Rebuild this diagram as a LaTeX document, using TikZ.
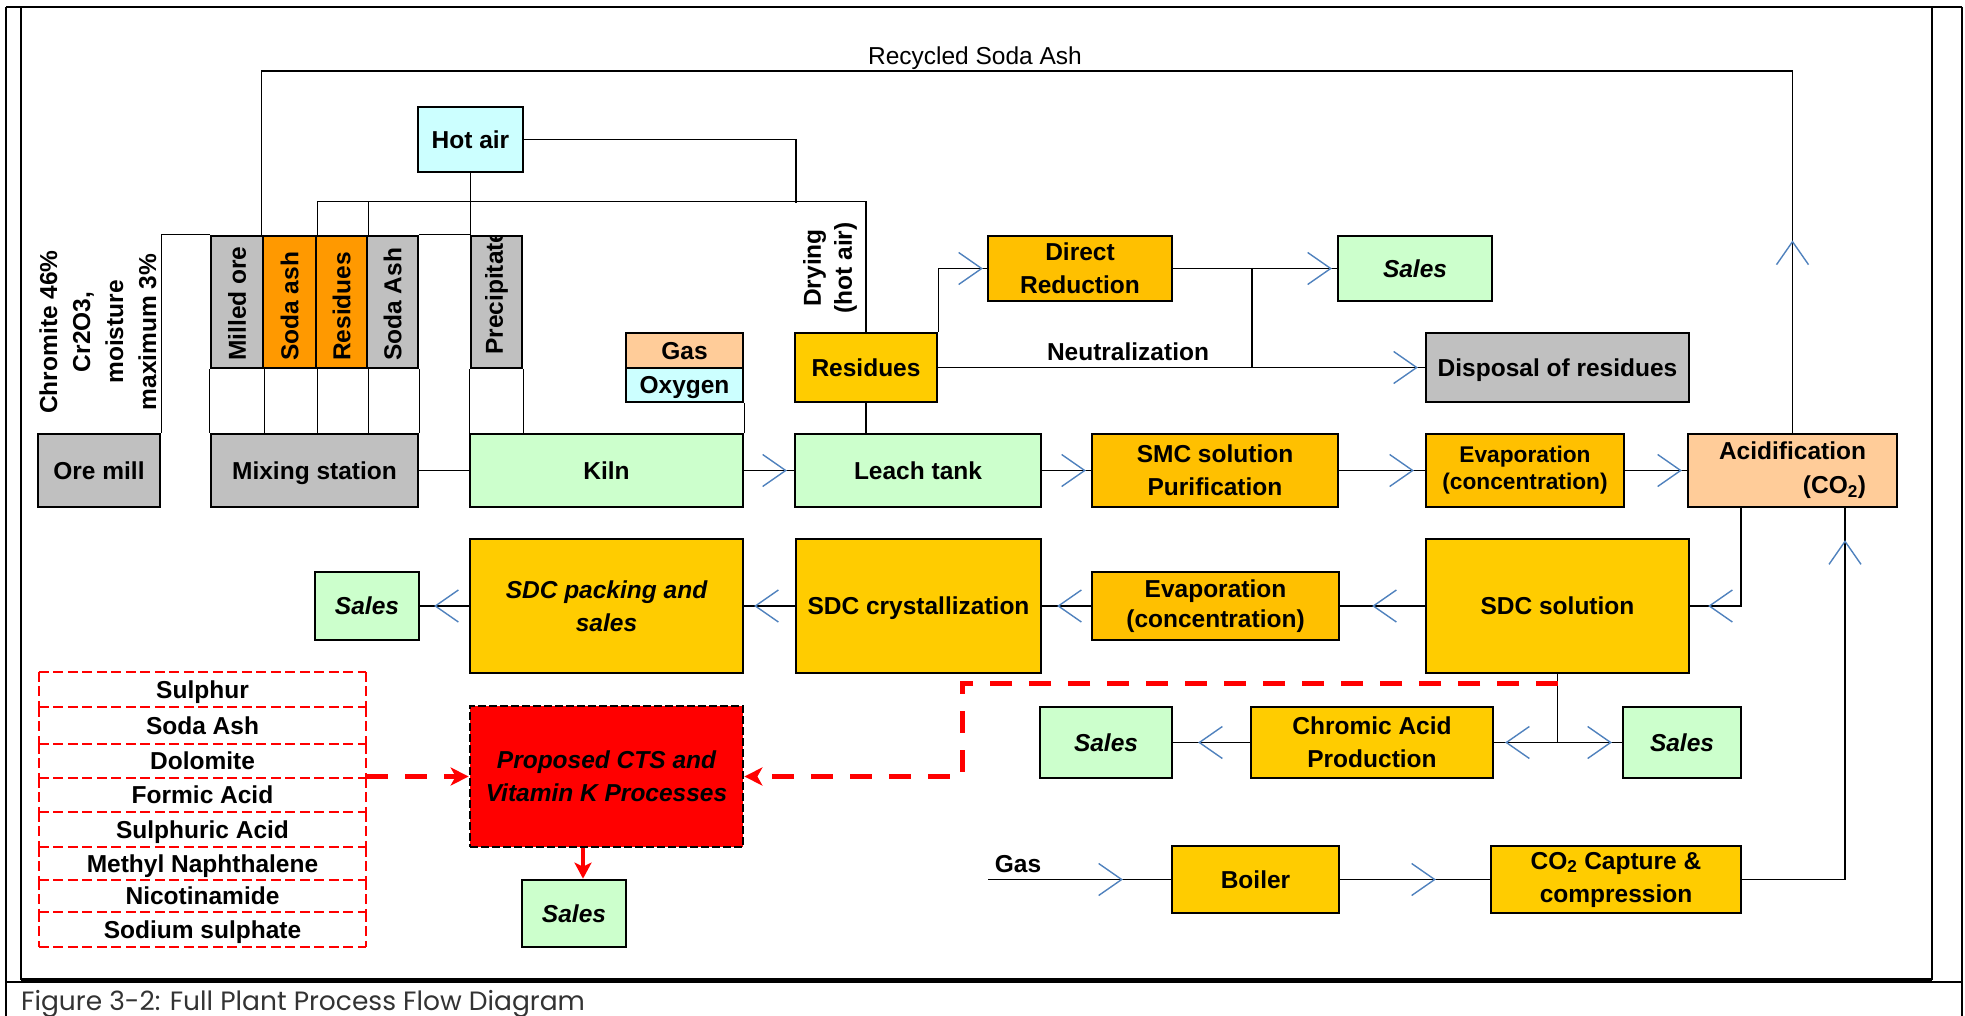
\documentclass[tikz,border=0pt]{standalone}
\usepackage{fontspec}
\setmainfont{Liberation Sans}
\newfontfamily\capfont{Poppins}
\usetikzlibrary{arrows.meta,decorations.markings}
\definecolor{grayfill}{HTML}{C0C0C0}
\definecolor{orangefill}{HTML}{FF9900}
\definecolor{goldA}{HTML}{FFCC00}
\definecolor{goldB}{HTML}{FFC000}
\definecolor{greenfill}{HTML}{CCFFCC}
\definecolor{cyanfill}{HTML}{CCFFFF}
\definecolor{peach}{HTML}{FFCC99}
\definecolor{chevblue}{HTML}{4F81BD}
\newcommand\boxat[7]{\node[#1, minimum width={#5-#3}, minimum height={#6-#4}] (#2) at ({(#3+#5)/2},{(#4+#6)/2}) {#7};}
\newcommand\bfnt{\fontsize{24.5}{33}\selectfont\bfseries}
\tikzset{
  box/.style={draw, line width=2.7pt, inner sep=0pt, align=center, font=\bfnt},
  itbox/.style={box, font=\bfnt\itshape},
  one/.style={text height=17.5pt, text depth=0pt},
  listbox/.style={inner sep=0pt, font=\bfnt, one},
  listline/.style={red, line width=2.5pt, dash pattern=on 10pt off 4.5pt},
  lbl/.style={inner sep=0pt, align=center, font=\bfnt},
  conn/.style={line width=1.5pt},
  chev/.style={postaction={decorate,decoration={markings,mark=at position #1 with {\draw[chevblue,line width=1.4pt,solid] (-23pt,16pt) -- (0pt,0pt) -- (-23pt,-16pt);}}}},
  reddash/.style={red, line width=5pt, dash pattern=on 22pt off 17pt, -{Stealth[length=18pt,width=18pt,inset=5pt]}},
  redarrow/.style={red, line width=3.5pt, -{Stealth[length=16pt,width=17pt,inset=4pt]}}
}
\begin{document}
\begin{tikzpicture}[x=1pt,y=-1pt]
\useasboundingbox (0,0) rectangle (1965,1016);
% frame
\draw[line width=2.7pt] (6,7) -- (1962,7);
\draw[line width=1.7pt] (6,7) -- (6,1016);
\draw[line width=1.7pt] (20.7,7) -- (20.7,980);
\draw[line width=2.7pt] (1932,7) -- (1932,980);
\draw[line width=1.7pt] (1962,7) -- (1962,1016);
\draw[line width=1.5pt] (6,982) -- (1962,982);
\draw[line width=4pt] (20.7,980) -- (1932,980);
\node[anchor=base west, inner sep=0pt, font=\capfont\fontsize{26.5}{30}\selectfont, text=black!80] (caption) at (21,1010) {Figure 3-2: Full Plant Process Flow Diagram};

% top row
\boxat{box,one,fill=grayfill}{oremill}{38}{434}{160}{507}{Ore mill}
\boxat{box,one,fill=grayfill}{mixing}{211}{434}{418}{507}{Mixing station}
\boxat{box,one,fill=greenfill}{kiln}{470}{434}{743}{507}{Kiln}
\boxat{box,one,fill=greenfill}{leach}{795}{434}{1041}{507}{Leach tank}
\boxat{box,fill=goldB}{smc}{1092}{434}{1338}{507}{SMC solution\\Purification}
\boxat{box,fill=goldB,font=\fontsize{22.7}{27}\selectfont\bfseries}{evapA}{1426}{434}{1624}{507}{Evaporation\\(concentration)}
\boxat{box,fill=peach,align=right}{acid}{1688}{434}{1897}{507}{Acidification\\[1pt](CO\textsubscript{2})}

% feeds
\boxat{box,one,fill=cyanfill}{hotair}{418}{107}{523}{172}{Hot air}
\boxat{box,fill=grayfill}{milled}{211}{236}{263}{368}{}
\boxat{box,fill=orangefill}{sodaA}{263}{236}{316}{368}{}
\boxat{box,fill=orangefill}{resA}{316}{236}{367}{368}{}
\boxat{box,fill=grayfill}{sodaB}{367}{236}{418}{368}{}
\boxat{box,fill=grayfill}{precip}{471}{236}{522}{368}{}
\node[lbl,rotate=90,anchor=west] (tmilled) at (237,361) {Milled ore};
\node[lbl,rotate=90,anchor=west] (tsodaA) at (289.5,361) {Soda ash};
\node[lbl,rotate=90,anchor=west] (tresA) at (341.5,361) {Residues};
\node[lbl,rotate=90,anchor=west] (tsodaB) at (392.5,361) {Soda Ash};
\begin{scope}
\clip (471,236) rectangle (522,368);
\node[lbl,rotate=90,anchor=west] (tprecip) at (496.5,355) {Precipitate};
\end{scope}
\node[lbl,rotate=90] (chromite) at (98,332) {Chromite 46\%\\Cr2O3,\\moisture\\maximum 3\%};
\node[lbl,rotate=90] (drying) at (830,268) {Drying\\[-2pt](hot air)};

\boxat{box,one,fill=peach}{gas}{626}{333}{743}{368}{Gas}
\boxat{box,one,fill=cyanfill}{oxygen}{626}{368}{743}{402}{Oxygen}
\boxat{box,one,fill=goldA}{residues}{795}{333}{937}{402}{Residues}
\boxat{box,fill=goldB}{direct}{988}{236}{1172}{301}{Direct\\Reduction}
\boxat{itbox,one,fill=greenfill}{salesA}{1338}{236}{1492}{301}{Sales}
\boxat{box,one,fill=grayfill}{disposal}{1426}{333}{1689}{402}{Disposal of residues}
\node[lbl] (neutral) at (1128,352) {Neutralization};
\node[anchor=base, inner sep=0pt, font=\fontsize{24.5}{30}\selectfont] (recycled) at (975,65) {Recycled Soda Ash};

% middle row
\boxat{itbox,one,fill=greenfill}{salesB}{315}{572}{419}{640}{Sales}
\boxat{itbox,fill=goldA}{packing}{470}{539}{743}{673}{SDC packing and\\sales}
\boxat{box,one,fill=goldA}{cryst}{796}{539}{1041}{673}{SDC crystallization}
\boxat{box,fill=goldB}{evapB}{1092}{572}{1339}{640}{Evaporation\\[-3pt](concentration)}
\boxat{box,one,fill=goldA}{sdcsol}{1426}{539}{1689}{673}{SDC solution}

% third row
\boxat{itbox,one,fill=greenfill}{salesC}{1040}{707}{1172}{778}{Sales}
\boxat{box,fill=goldA}{chromic}{1251}{707}{1493}{778}{Chromic Acid\\Production}
\boxat{itbox,one,fill=greenfill}{salesD}{1623}{707}{1741}{778}{Sales}
\boxat{itbox,fill=red,dash pattern=on 8pt off 3pt}{proposed}{470}{706}{743}{847}{Proposed CTS and\\Vitamin K Processes}

% bottom row
\boxat{box,one,fill=goldA}{boiler}{1172}{846}{1339}{913}{Boiler}
\boxat{box,fill=goldA}{cotwo}{1491}{846}{1741}{913}{CO\textsubscript{2} Capture \&\\compression}
\boxat{itbox,one,fill=greenfill}{salesE}{522}{880}{626}{947}{Sales}
\node[lbl,anchor=base] (gaslbl) at (1018,872) {Gas};

% list
\boxat{listbox}{l1}{39}{672}{366}{707}{Sulphur}
\boxat{listbox}{l2}{39}{707}{366}{744}{Soda Ash}
\boxat{listbox}{l3}{39}{744}{366}{778}{Dolomite}
\boxat{listbox}{l4}{39}{778}{366}{812}{Formic Acid}
\boxat{listbox}{l5}{39}{812}{366}{847}{Sulphuric Acid}
\boxat{listbox}{l6}{39}{847}{366}{880}{Methyl Naphthalene}
\boxat{listbox}{l7}{39}{880}{366}{912}{Nicotinamide}
\boxat{listbox}{l8}{39}{912}{366}{947}{Sodium sulphate}
\foreach \nm in {l1,l2,l3,l4,l5,l6,l7,l8}{
  \draw[listline] (\nm.north west) -- (\nm.north east);
  \draw[listline] (\nm.north west) -- (\nm.south west);
  \draw[listline] (\nm.north east) -- (\nm.south east);
}
\draw[listline] (l8.south west) -- (l8.south east);

% connectors
\coordinate (hotj) at (796,203);
\coordinate (drj) at (1252,268);
\coordinate (gasin) at (988,879.5);
\coordinate (rdstart) at (1558,683);

\draw[conn] (oremill.north east) -- (oremill.north east |- milled.north west) -- (milled.north west);
\draw[conn] (sodaB.north east) -- (precip.north west);
\draw[conn] (milled.south west) -- (milled.south west |- mixing.north);
\draw[conn] (milled.south east) -- (milled.south east |- mixing.north);
\draw[conn] (sodaA.south east) -- (sodaA.south east |- mixing.north);
\draw[conn] (resA.south east) -- (resA.south east |- mixing.north);
\draw[conn] (sodaB.south east) -- (sodaB.south east |- mixing.north);
\draw[conn] (precip.south west) -- (precip.south west |- kiln.north);
\draw[conn] (precip.south east) -- (precip.south east |- kiln.north);
\draw[conn] (hotair.south) -- (hotair.south |- precip.north);
\draw[conn] (hotair.east) -| (hotj);
\draw[conn] (sodaA.north east) -- ++(0,-33) -| (residues.north);
\draw[conn] (resA.north east) -- ++(0,-33);
\draw[conn,chev=191pt] (acid.north) -- (acid.north |- 0,71) -| (sodaA.north west);
\draw[conn] (mixing.east) -- (kiln.west);
\draw[conn,chev=-8pt] (kiln.east) -- (leach.west);
\draw[conn] (oxygen.south east) -- (kiln.north east);
\draw[conn] (residues.south) -- (residues.south |- leach.north);
\draw[conn,chev=-6pt] (leach.east) -- (smc.west);
\draw[conn,chev=-12pt] (smc.east) -- (evapA.west);
\draw[conn,chev=-6pt] (evapA.east) -- (acid.west);
\draw[conn,chev=-5pt] (residues.north east) |- (direct.west);
\draw[conn,chev=-6pt] (direct.east) -- (salesA.west);
\draw[conn] (drj) -- (drj |- residues.east);
\draw[conn,chev=-8pt] (residues.east) -- (disposal.west);
\draw[conn,chev=-19pt] (acid.south -| 1741,0) |- (sdcsol.east);
\draw[conn,chev=-33pt] (cotwo.east) -| (acid.south -| 1845,0);
\draw[conn,chev=-33pt] (sdcsol.west) -- (evapB.east);
\draw[conn,chev=-16pt] (evapB.west) -- (cryst.east);
\draw[conn,chev=-11pt] (cryst.west) -- (packing.east);
\draw[conn,chev=-15pt] (packing.west) -- (salesB.east);
\draw[conn,chev=-12pt] (sdcsol.south) |- (chromic.east);
\draw[conn,chev=-11pt] (sdcsol.south) |- (salesD.west);
\draw[conn,chev=-26pt] (chromic.west) -- (salesC.east);
\draw[conn,chev=-49pt] (gasin) -- (gasin -| boiler.west);
\draw[conn,chev=-55pt] (boiler.east) -- (cotwo.west);

\draw[reddash] (rdstart) -| (proposed.east -| 962,0) -- (proposed.east);
\draw[reddash] (proposed.west -| l4.east) -- (proposed.west);
\draw[redarrow] (proposed.south -| 583,0) -- (583,0 |- salesE.north);
\end{tikzpicture}
\end{document}
